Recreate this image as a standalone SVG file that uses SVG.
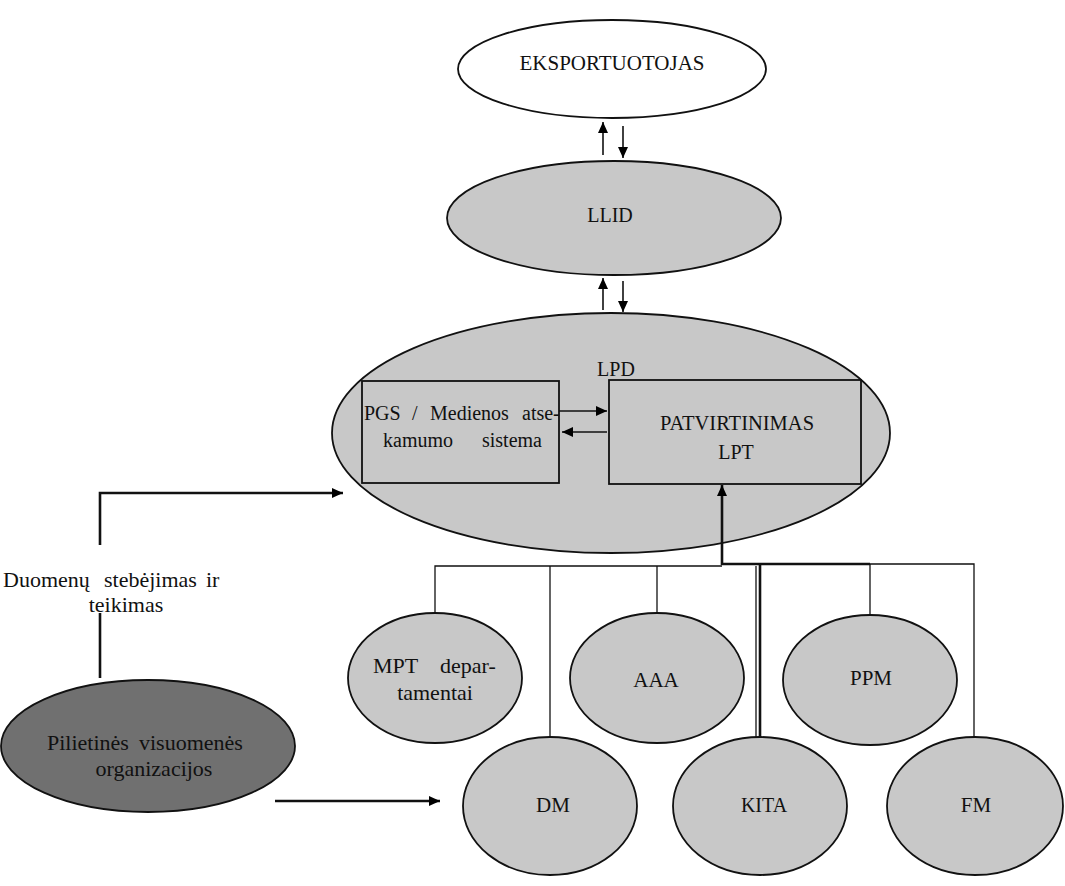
<svg xmlns="http://www.w3.org/2000/svg" width="1065" height="886" viewBox="0 0 1065 886">
<defs>
<marker id="ah" markerUnits="userSpaceOnUse" markerWidth="12" markerHeight="10" refX="11" refY="5" orient="auto">
<path d="M0,0 L11,5 L0,10 Z" fill="#000"/>
</marker>
<style>
text{font-family:"Liberation Serif","Times New Roman",serif;font-size:20px;fill:#111;text-anchor:middle}
text.s{text-anchor:start}
text.l{font-size:22px}
.node{stroke:#111;stroke-width:1.8}
.g{fill:#c8c8c8}
.w{fill:#fff}
.d{fill:#707070}
.c{fill:none;stroke:#111;stroke-width:1.6}
.t{fill:none;stroke:#111;stroke-width:1.3}
.k{fill:none;stroke:#111;stroke-width:2.6}
</style>
</defs>
<rect width="1065" height="886" fill="#fff"/>

<g id="eksportuotojas">
<ellipse class="node w" cx="612" cy="69" rx="154" ry="49"/>
<text x="612" y="70" style="font-size:21px">EKSPORTUOTOJAS</text>
</g>

<g id="llid">
<ellipse class="node g" cx="614" cy="218" rx="167" ry="57"/>
<text x="610" y="222">LLID</text>
</g>

<g id="lpd">
<ellipse class="node g" cx="611" cy="433" rx="279" ry="120"/>
<text x="616" y="376">LPD</text>
</g>

<g id="pgs">
<rect class="node g" x="362" y="381" width="197" height="102" stroke-width="2"/>
<text class="s" y="420"><tspan x="364">PGS</tspan><tspan x="412">/</tspan><tspan x="430">Medienos</tspan><tspan x="522">atse-</tspan></text>
<text class="s" y="447"><tspan x="383">kamumo</tspan><tspan x="482">sistema</tspan></text>
</g>

<g id="patvirtinimas">
<rect class="node g" x="609" y="380" width="252" height="104" stroke-width="2"/>
<text x="737" y="430" style="font-size:20.5px">PATVIRTINIMAS</text>
<text x="736" y="459">LPT</text>
</g>

<g id="duomenu-label">
<text class="s l" y="587"><tspan x="3">Duomenų</tspan><tspan x="104">stebėjimas</tspan><tspan x="206">ir</tspan></text>
<text class="l" x="126" y="612">teikimas</text>
</g>

<g id="pilietines">
<ellipse class="node d" cx="148" cy="746" rx="147" ry="66"/>
<text class="s l" y="750"><tspan x="47">Pilietinės</tspan><tspan x="139">visuomenės</tspan></text>
<text class="l" x="154" y="776">organizacijos</text>
</g>

<g id="mpt">
<ellipse class="node g" cx="435" cy="678" rx="87" ry="65"/>
<text class="s l" y="673"><tspan x="373">MPT</tspan><tspan x="440">depar-</tspan></text>
<text class="l" x="435" y="700">tamentai</text>
</g>

<g id="aaa">
<ellipse class="node g" cx="657" cy="678" rx="87" ry="65"/>
<text x="656" y="687" style="font-size:21px">AAA</text>
</g>

<g id="ppm">
<ellipse class="node g" cx="870" cy="680" rx="87" ry="65"/>
<text x="871" y="685" style="font-size:21px">PPM</text>
</g>

<g id="dm">
<ellipse class="node g" cx="550" cy="806" rx="87" ry="69"/>
<text x="553" y="812" style="font-size:21px">DM</text>
</g>

<g id="kita">
<ellipse class="node g" cx="760" cy="806" rx="87" ry="69"/>
<text x="764" y="812">KITA</text>
</g>

<g id="fm">
<ellipse class="node g" cx="975" cy="806" rx="88" ry="69"/>
<text x="976" y="812" style="font-size:21px">FM</text>
</g>

<g id="connectors">
<line class="c" x1="603" y1="155" x2="603" y2="122" marker-end="url(#ah)"/>
<line class="c" x1="623" y1="126" x2="623" y2="158" marker-end="url(#ah)"/>
<line class="c" x1="603" y1="310" x2="603" y2="278" marker-end="url(#ah)"/>
<line class="c" x1="623" y1="281" x2="623" y2="312" marker-end="url(#ah)"/>
<line class="c" x1="559" y1="411" x2="607" y2="411" marker-end="url(#ah)"/>
<line class="c" x1="607" y1="432" x2="562" y2="432" marker-end="url(#ah)"/>
<polyline class="k" points="100,545 100,493 343,493" marker-end="url(#ah)"/>
<line class="k" x1="100" y1="613" x2="100" y2="678"/>
<line class="k" x1="275" y1="801" x2="440" y2="801" marker-end="url(#ah)"/>
<line class="k" x1="722" y1="565" x2="722" y2="485" marker-end="url(#ah)"/>
<polyline class="t" points="435,613 435,566 722,566"/>
<line class="k" x1="722" y1="564" x2="870" y2="564"/>
<polyline class="t" points="870,564 974,564 974,737"/>
<line class="t" x1="550" y1="566" x2="550" y2="737"/>
<line class="t" x1="657" y1="566" x2="657" y2="613"/>
<line class="t" x1="756" y1="566" x2="756" y2="738"/>
<line class="k" x1="760" y1="564" x2="760" y2="737"/>
<line class="t" x1="870" y1="564" x2="870" y2="615"/>
</g>
</svg>
